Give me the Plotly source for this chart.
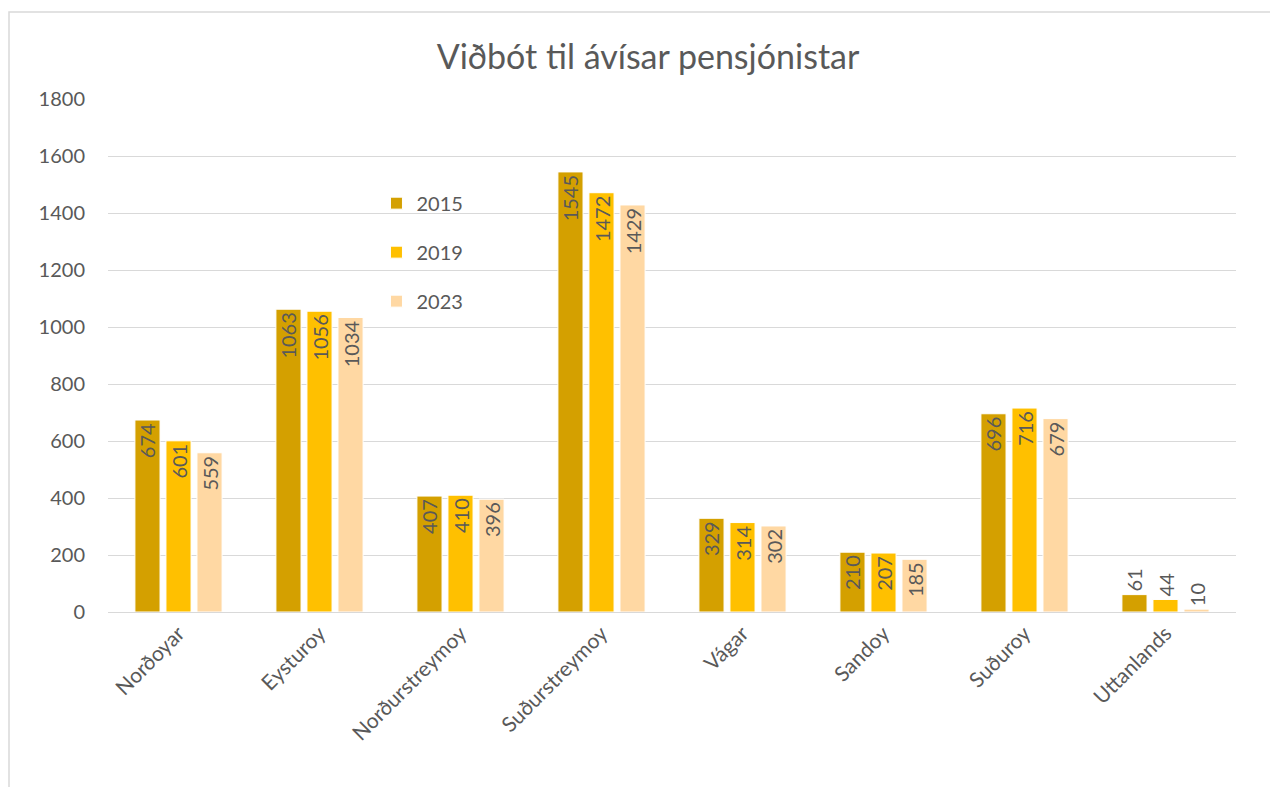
import plotly.graph_objects as go

categories = ["Norðoyar", "Eysturoy", "Norðurstreymoy", "Suðurstreymoy",
              "Vágar", "Sandoy", "Suðuroy", "Uttanlands"]
years = ["2015", "2019", "2023"]
v2015 = [674, 1063, 407, 1545, 329, 210, 696, 61]
v2019 = [601, 1056, 410, 1472, 314, 207, 716, 44]
v2023 = [559, 1034, 396, 1429, 302, 185, 679, 10]
colors = ["#D4A000", "#FFC000", "#FFD8A3"]
yticks = [0, 200, 400, 600, 800, 1000, 1200, 1400, 1600, 1800]

FONT = "Lato"
TXT = "#595959"

# page body has an 8px margin; compensate
W, H = 1270, 779
L, T = 100, 91
PW, PH = 1128, 513

fig = go.Figure()
for i, (yr, vals) in enumerate(zip(years, [v2015, v2019, v2023])):
    pos = ["outside" if v < 100 else "inside" for v in vals]
    fig.add_trace(go.Bar(
        x=categories, y=vals, name=yr,
        marker=dict(color=colors[i], line=dict(color="white", width=1)),
        text=[str(v) for v in vals], textposition=pos,
        textangle=-90, insidetextanchor="end",
        textfont=dict(family=FONT, size=20, color=TXT),
        outsidetextfont=dict(family=FONT, size=20, color=TXT),
        constraintext="none", cliponaxis=False,
        legendgroup=yr,
    ))

fig.update_layout(
    width=W, height=H,
    margin=dict(l=L, r=W - L - PW, t=T, b=H - T - PH),
    paper_bgcolor="white", plot_bgcolor="white",
    barmode="group", bargap=0.34, bargroupgap=0.19,
    font=dict(family=FONT, color=TXT),
    title=dict(text="Viðbót til ávísar pensjónistar",
               x=(640 - L) / PW, xref="paper",
               xanchor="center", y=1 - 49 / H, yanchor="middle",
               font=dict(family=FONT, size=34, color=TXT)),
    legend=dict(x=0.238, y=0.835, xanchor="left", yanchor="top",
                bgcolor="rgba(0,0,0,0)", font=dict(family=FONT, size=20, color=TXT),
                traceorder="grouped", tracegroupgap=20, itemwidth=30),
    showlegend=True,
)
fig.update_xaxes(tickangle=-45, tickfont=dict(family=FONT, size=21, color=TXT),
                 showline=True, linecolor="#D9D9D9", linewidth=1, ticks="")
fig.update_yaxes(range=[0, 1801], tickvals=yticks, ticktext=[str(t) for t in yticks],
                 showgrid=True, gridcolor="#D9D9D9", gridwidth=1,
                 zeroline=False, ticks="", ticklabelstandoff=22,
                 tickfont=dict(family=FONT, size=20, color=TXT))
fig.add_shape(type="rect", xref="paper", yref="paper",
              x0=(1 - L) / PW, x1=1.2, y0=-0.5, y1=(PH + T - 4) / PH,
              line=dict(color="#D9D9D9", width=1.5), fillcolor="rgba(0,0,0,0)", layer="below")
fig.write_html("out.html")
